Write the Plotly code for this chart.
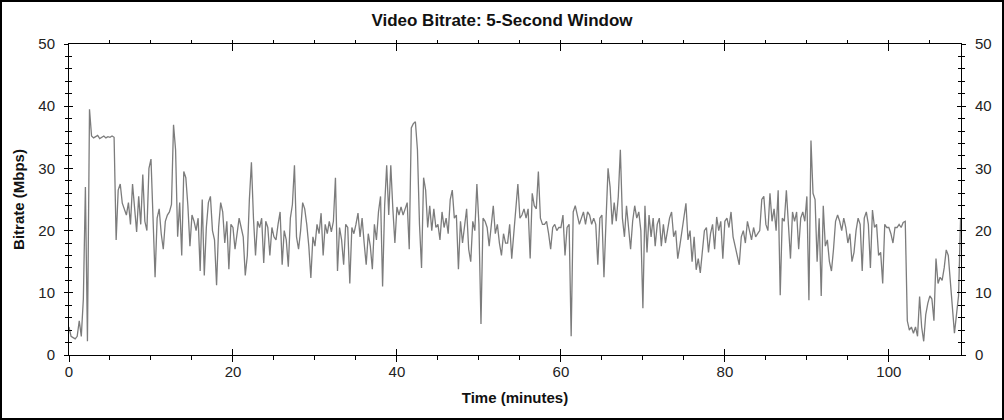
import plotly.graph_objects as go

STEP_MIN = 0.25  # sampling step of the series (minutes)

bitrate_mbps = [
    # 0 - 9.75 min
    4.5, 3.0, 2.8, 2.6, 3.0, 5.5, 3.0, 9.0, 27.0, 2.2,
    39.5, 35.2, 34.9, 35.1, 35.3, 34.8, 35.0, 35.2, 34.9, 35.1,
    35.0, 35.2, 35.0, 18.5, 26.5, 27.5, 24.4, 23.5, 22.5, 24.5,
    21.0, 27.5, 24.0, 19.8, 25.5, 21.0, 29.0, 21.5, 20.0, 30.0,
    # 10 - 19.75
    31.5, 22.0, 12.5, 22.0, 23.5, 19.5, 17.0, 21.5, 22.5, 23.0,
    24.2, 37.0, 33.0, 19.0, 24.5, 16.0, 29.5, 28.5, 24.0, 17.5,
    22.5, 21.5, 20.0, 22.0, 13.5, 25.0, 12.8, 20.5, 24.5, 25.5,
    20.0, 18.5, 11.2, 20.5, 24.5, 23.0, 18.0, 21.5, 13.8, 21.0,
    # 20 - 29.75
    20.5, 17.0, 20.0, 22.0, 20.5, 19.0, 12.8, 16.0, 25.0, 31.0,
    22.0, 16.0, 21.5, 20.5, 22.0, 14.8, 21.5, 20.5, 16.0, 20.5,
    19.0, 18.5, 21.0, 23.0, 14.5, 20.0, 18.5, 14.2, 22.0, 24.2,
    30.5, 19.0, 17.0, 20.0, 24.5, 23.5, 21.0, 17.5, 12.4, 19.0,
    # 30 - 39.75
    17.5, 21.0, 19.5, 22.8, 16.0, 21.0, 19.5, 21.5, 19.8, 21.5,
    28.5, 13.5, 20.5, 18.5, 14.5, 21.0, 20.5, 11.5, 20.5, 19.5,
    21.0, 22.8, 19.0, 22.0, 18.0, 14.5, 19.5, 17.5, 13.8, 21.0,
    18.5, 23.0, 25.5, 11.0, 24.0, 30.5, 22.5, 30.5, 23.5, 18.0,
    # 40 - 49.75
    23.8, 22.5, 23.8, 22.5, 23.5, 24.5, 17.0, 36.5, 37.2, 37.5,
    33.0, 21.0, 14.0, 28.5, 26.5, 20.5, 24.0, 20.0, 23.5, 20.5,
    21.0, 18.5, 23.0, 20.5, 22.0, 19.5, 25.0, 26.5, 22.0, 22.5,
    13.8, 21.5, 18.0, 21.0, 23.5, 17.0, 15.0, 21.5, 20.0, 27.5,
    # 50 - 59.75
    21.0, 5.0, 22.0, 21.5, 20.5, 17.5, 21.0, 24.0, 19.5, 21.0,
    18.0, 16.0, 19.5, 18.0, 18.0, 21.0, 15.5, 20.0, 24.0, 27.5,
    22.0, 22.5, 23.5, 22.0, 23.5, 15.5, 26.0, 24.0, 23.5, 29.5,
    22.0, 21.0, 21.0, 21.5, 19.5, 17.0, 20.5, 21.0, 20.0, 20.5,
    # 60 - 69.75
    20.5, 22.5, 16.0, 20.5, 21.0, 3.0, 23.0, 24.0, 22.5, 21.0,
    22.0, 23.0, 21.0, 23.0, 22.5, 21.0, 22.0, 21.0, 14.5, 22.0,
    22.5, 12.5, 21.5, 30.0, 27.0, 21.0, 24.5, 21.5, 25.5, 33.0,
    22.0, 19.0, 24.0, 20.5, 17.0, 21.5, 24.0, 22.0, 23.0, 20.0,
    # 70 - 79.75
    7.5, 24.0, 16.5, 22.5, 19.0, 22.0, 17.5, 21.0, 22.0, 17.5,
    21.0, 18.0, 20.0, 22.0, 23.0, 19.0, 20.0, 15.5, 17.5, 20.0,
    22.0, 24.4, 18.5, 20.0, 15.0, 19.0, 13.7, 15.5, 13.2, 17.0,
    20.0, 20.5, 16.5, 19.5, 21.0, 17.0, 22.2, 20.0, 21.5, 15.5,
    # 80 - 89.75
    21.5, 22.0, 20.5, 23.0, 19.0, 17.5, 15.8, 14.5, 19.0, 20.0,
    18.0, 21.5, 20.0, 18.5, 20.5, 19.0, 19.5, 20.0, 25.0, 25.5,
    21.0, 20.0, 26.0, 21.5, 23.5, 20.0, 26.5, 9.6, 22.0, 21.5,
    26.5, 20.0, 15.5, 23.0, 21.5, 23.0, 17.0, 22.0, 23.0, 21.5,
    # 90 - 99.75
    25.5, 8.8, 34.5, 26.0, 25.0, 15.0, 22.0, 9.5, 24.0, 17.5,
    18.5, 15.0, 13.5, 17.0, 21.5, 22.5, 21.5, 20.0, 22.0, 20.5,
    18.0, 19.5, 15.0, 16.5, 20.0, 22.0, 21.0, 13.5, 22.0, 23.0,
    21.0, 14.0, 23.3, 20.5, 21.0, 16.0, 16.5, 11.5, 21.0, 20.5,
    # 100 - 108.75
    20.5, 19.5, 18.0, 20.5, 20.5, 21.0, 20.5, 21.3, 21.5, 5.5,
    4.0, 4.5, 3.5, 4.5, 3.0, 9.4, 4.5, 2.2, 6.5, 8.3,
    9.5, 9.0, 5.5, 15.5, 11.5, 12.5, 12.0, 14.0, 16.9, 16.0,
    12.0, 7.0, 3.5, 6.5, 9.5, 22.0,
]
time_min = [i * STEP_MIN for i in range(len(bitrate_mbps))]

x_range = [0, 108.8]
y_range = [0, 50]

FONT = "Liberation Sans, Arial, sans-serif"
LINE_COLOR = "#7c7c7c"
TICK_FONT = dict(family=FONT, size=15, color="#222222")

fig = go.Figure()
fig.add_trace(go.Scatter(
    x=time_min, y=bitrate_mbps, mode="lines",
    line=dict(color=LINE_COLOR, width=1.3),
    showlegend=False, hoverinfo="skip",
))
# empty helper traces so the overlay axes (for crossing ticks) are drawn
for xa, ya in [("x2", "y2"), ("x3", "y3"), ("x3", "y4")]:
    fig.add_trace(go.Scatter(x=[], y=[], xaxis=xa, yaxis=ya,
                             showlegend=False, hoverinfo="skip"))

common = dict(showgrid=False, zeroline=False, tickcolor="black", tickwidth=1)

fig.update_layout(
    width=1004, height=420, autosize=False,
    margin=dict(l=69, r=43, t=44, b=65, autoexpand=False),
    paper_bgcolor="white", plot_bgcolor="white",
    title=dict(text="Video Bitrate: 5-Second Window",
               font=dict(family=FONT, size=17, color="#111111", weight="bold"),
               x=0.5, xref="container", xanchor="center",
               y=1 - 20 / 420, yref="container", yanchor="middle"),
    xaxis=dict(range=x_range, tick0=0, dtick=20, ticks="outside", ticklen=6,
               minor=dict(dtick=5, ticks="outside", ticklen=4, tickcolor="black"),
               showline=True, linecolor="black", linewidth=1,
               tickfont=TICK_FONT, ticklabelstandoff=-3,
               title=dict(text="Time (minutes)", standoff=13,
                          font=dict(family=FONT, size=15, color="#111111", weight="bold")),
               **common),
    xaxis2=dict(range=x_range, overlaying="x", anchor="y", side="bottom",
                tick0=0, dtick=20, ticks="inside", ticklen=6,
                showticklabels=False, showline=False, **common),
    xaxis3=dict(range=x_range, overlaying="x", anchor="y", side="top",
                tick0=0, dtick=20, ticks="inside", ticklen=7,
                minor=dict(dtick=5, ticks="outside", ticklen=3, tickcolor="black"),
                showticklabels=False, showline=True, linecolor="black", linewidth=1,
                **common),
    yaxis=dict(range=y_range, tick0=0, dtick=10, ticks="outside", ticklen=4,
               minor=dict(dtick=2, ticks="outside", ticklen=3, tickcolor="black"),
               showline=True, linecolor="black", linewidth=1,
               tickfont=TICK_FONT, ticklabelstandoff=6,
               title=dict(text="Bitrate (Mbps)", standoff=10,
                          font=dict(family=FONT, size=15, color="#111111", weight="bold")),
               **common),
    yaxis2=dict(range=y_range, overlaying="y", anchor="x", side="right",
                tick0=0, dtick=10, ticks="outside", ticklen=4,
                minor=dict(dtick=2, ticks="outside", ticklen=3, tickcolor="black"),
                showline=True, linecolor="black", linewidth=1,
                tickfont=TICK_FONT, ticklabelstandoff=6, **common),
    yaxis3=dict(range=y_range, overlaying="y", anchor="x", side="left",
                tick0=0, dtick=10, ticks="inside", ticklen=4,
                minor=dict(dtick=2, ticks="inside", ticklen=3, tickcolor="black"),
                showticklabels=False, showline=False, **common),
    yaxis4=dict(range=y_range, overlaying="y", anchor="x", side="right",
                tick0=0, dtick=10, ticks="inside", ticklen=4,
                minor=dict(dtick=2, ticks="inside", ticklen=3, tickcolor="black"),
                showticklabels=False, showline=False, **common),
    shapes=[dict(type="rect", xref="paper", yref="paper",
                 x0=(1 - 69) / 892, x1=(1003 - 69) / 892,
                 y0=(355 - 419) / 311, y1=(355 - 1) / 311,
                 line=dict(color="black", width=2), fillcolor="rgba(0,0,0,0)",
                 layer="above")],
)

fig.write_html("out.html",
               config={"displayModeBar": False, "staticPlot": True},
               post_script="document.body.style.margin='0';document.body.style.overflow='hidden';")
